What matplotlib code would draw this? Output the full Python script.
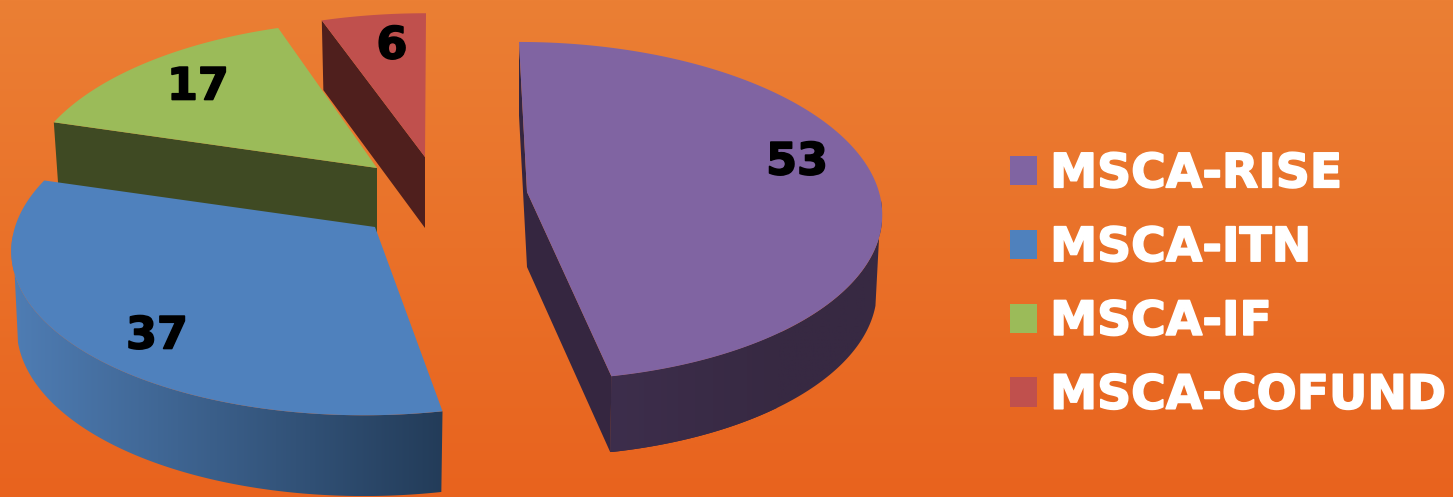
import numpy as np
import matplotlib
matplotlib.use('Agg')
import matplotlib.pyplot as plt
import matplotlib.patheffects as pe
from matplotlib.colors import LinearSegmentedColormap
from matplotlib.patches import Patch, Polygon

plt.rcParams['font.family'] = ['DejaVu Sans']

categories = ['MSCA-RISE', 'MSCA-ITN', 'MSCA-IF', 'MSCA-COFUND']
values = [53, 37, 17, 6]
colors = ['#8064A2', '#4F81BD', '#9BBB59', '#C0504D']
face_colors = ['#352640', None, '#3F4A23', '#4F1F1D']

# explode centre, width, height, shear, wall depth for each slice
centres = [(527, 192), (375, 227), (377, 168), (425, 157)]
radius_x = [352, 360, 350, 352]
radius_y = [167, 167, 164, 160]
shear = [-8, 11, 5, 1]
depth = [75, 76, 70, 71]
depth_tilt = [0.05, 0.1, 0.05, 0.05]
label_pos = [(797, 162), (157, 336), (198, 87), (392, 46)]

PERSP = 0.113


def project(i, theta, bottom=False):
    u, v = np.cos(theta), np.sin(theta)
    s = 1 / (1 + PERSP * v)
    cx, cy = centres[i]
    if bottom:
        x = cx + 0.985 * radius_x[i] * u * s + shear[i] * v
        y = cy - 0.985 * radius_y[i] * v * s + depth[i] * (1 - depth_tilt[i] * v)
    else:
        x = cx + radius_x[i] * u * s + shear[i] * v
        y = cy - radius_y[i] * v * s
    return np.column_stack([x, y])


def gradient_wall(ax, pts, left, right, zorder):
    cmap = LinearSegmentedColormap.from_list('wall', [left, right])
    x0, x1 = pts[:, 0].min(), pts[:, 0].max()
    y0, y1 = pts[:, 1].min(), pts[:, 1].max()
    img = ax.imshow(np.linspace(0, 1, 256)[None, :], cmap=cmap, aspect='auto',
                    extent=(x0, x1, y1, y0), zorder=zorder)
    clip = Polygon(pts, closed=True, transform=ax.transData, fc='none', ec='none')
    ax.add_patch(clip)
    img.set_clip_path(clip)


fig = plt.figure(figsize=(14.53, 4.97), dpi=100)
ax = fig.add_axes([0, 0, 1, 1])

bg = LinearSegmentedColormap.from_list('bg', ['#EB7F34', '#E8631E'])
ax.imshow(np.linspace(0, 1, 256)[:, None], cmap=bg, aspect='auto',
          extent=(0, 1453, 497, 0), zorder=0)

# slice angles, clockwise from 12 o'clock
angles = np.radians(90 - np.cumsum([0] + values) / sum(values) * 360)
bold = [pe.withStroke(linewidth=1.2, foreground='black')]

for i in [3, 2, 0, 1]:
    start, end = angles[i], angles[i + 1]
    z = 2 + [2, 3, 1, 0][i]
    arc = project(i, np.linspace(start, end, 200))
    apex = np.array(centres[i], dtype=float)
    apex_low = apex + [0, depth[i]]

    if i == 0:
        # back sliver, cut face and outer wall
        low_start = project(i, np.array([start]), True)[0]
        ax.add_patch(Polygon([arc[0], apex, apex_low, low_start], fc=face_colors[0], zorder=z))
        low_end = project(i, np.array([end]), True)[0]
        ax.add_patch(Polygon([apex, arc[-1], low_end, apex_low], fc=face_colors[0], zorder=z))
        top = project(i, np.linspace(np.radians(-3), end, 120))
        low = project(i, np.linspace(end, np.radians(-13), 120), True)
        gradient_wall(ax, np.vstack([top, low]), '#372942', '#372942', z)
        t = np.linspace(np.radians(-50), end, 120)
        wall = np.vstack([project(i, t), project(i, t[::-1], True)])
        gradient_wall(ax, wall, '#3D2E4C', '#372942', z)
    elif i == 1:
        top = project(i, np.linspace(start, np.radians(-177), 160))
        low = project(i, np.linspace(np.radians(-167), start, 160), True)
        gradient_wall(ax, np.vstack([top, low]), '#4F7DB4', '#233C59', z)
    else:
        low_start = project(i, np.array([start]), True)[0]
        ax.add_patch(Polygon([arc[0], apex, apex_low, low_start], fc=face_colors[i], zorder=z))

    ax.add_patch(Polygon(np.vstack([apex, arc]), fc=colors[i], zorder=z + 0.1))
    ax.text(label_pos[i][0], label_pos[i][1], str(values[i]), fontsize=32, fontweight='bold',
            color='black', ha='center', va='center', zorder=10, path_effects=bold)

handles = [Patch(fc=c, ec='none') for c in colors]
leg = ax.legend(handles, categories, loc='center left', bbox_to_anchor=(1010, 285.5),
                bbox_transform=ax.transData, frameon=False,
                prop={'weight': 'bold', 'size': 34}, labelcolor='white',
                handlelength=0.57, handleheight=0.57, handletextpad=0.28,
                labelspacing=0.61, borderpad=0, borderaxespad=0)
for txt in leg.get_texts():
    txt.set_path_effects([pe.withStroke(linewidth=1.2, foreground='white')])

ax.set_xlim(0, 1453)
ax.set_ylim(497, 0)
ax.axis('off')

fig.savefig('out.png', dpi=100)
